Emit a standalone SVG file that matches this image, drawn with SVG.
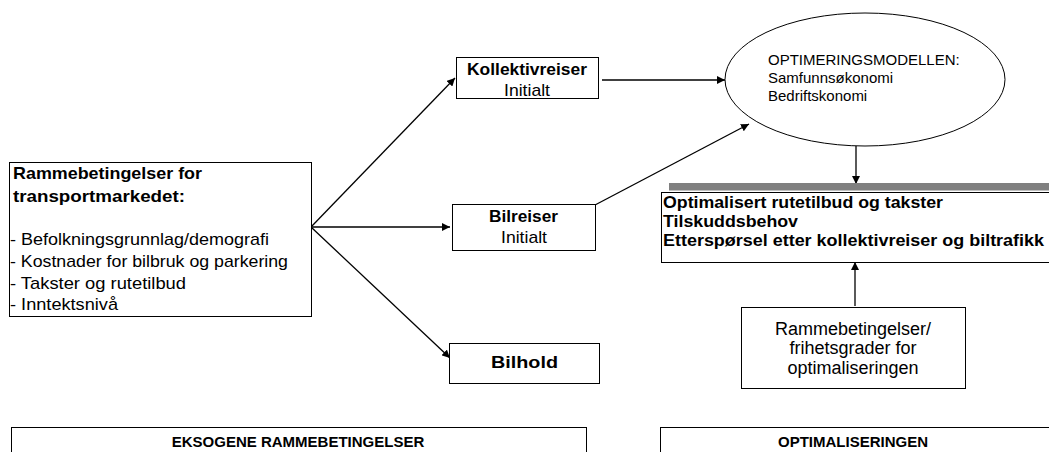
<svg xmlns="http://www.w3.org/2000/svg" width="1049" height="452" viewBox="0 0 1049 452">
<style>
text{font-family:"Liberation Sans",Arial,sans-serif;fill:#000}
.b{font-weight:bold}
.box{fill:#fff;stroke:#000;stroke-width:1}
.c{stroke:#000;stroke-width:1.3;fill:none}
</style>
<defs>
<marker id="ah" viewBox="0 0 10 10" refX="10" refY="5" markerWidth="8" markerHeight="8" markerUnits="userSpaceOnUse" orient="auto">
<path d="M0,0 L10,5 L0,10 z" fill="#000"/>
</marker>
</defs>
<rect width="1049" height="452" fill="#fff"/>
<g id="connectors">
<line class="c" x1="311" y1="227" x2="455" y2="78" marker-end="url(#ah)"/>
<line class="c" x1="311" y1="227" x2="450" y2="227" marker-end="url(#ah)"/>
<line class="c" x1="311" y1="227" x2="450" y2="358" marker-end="url(#ah)"/>
<line class="c" x1="602" y1="80" x2="725" y2="80" marker-end="url(#ah)"/>
<line class="c" x1="595" y1="205" x2="749" y2="124" marker-end="url(#ah)"/>
<line class="c" x1="856" y1="146" x2="856" y2="184" marker-end="url(#ah)"/>
<line class="c" x1="855" y1="306" x2="855" y2="262" marker-end="url(#ah)"/>
</g>
<g id="rammebetingelser">
<rect class="box" x="9.5" y="162.5" width="302" height="154"/>
<text class="b" x="13" y="179" font-size="17" textLength="189" lengthAdjust="spacingAndGlyphs">Rammebetingelser for</text>
<text class="b" x="13" y="202" font-size="17" textLength="172" lengthAdjust="spacingAndGlyphs">transportmarkedet:</text>
<text x="10" y="245" font-size="17" textLength="259" lengthAdjust="spacingAndGlyphs">- Befolkningsgrunnlag/demografi</text>
<text x="10" y="267" font-size="17" textLength="278" lengthAdjust="spacingAndGlyphs">- Kostnader for bilbruk og parkering</text>
<text x="10" y="289" font-size="17" textLength="176" lengthAdjust="spacingAndGlyphs">- Takster og rutetilbud</text>
<text x="10" y="310" font-size="17" textLength="108" lengthAdjust="spacingAndGlyphs">- Inntektsnivå</text>
</g>
<g id="kollektivreiser">
<rect class="box" x="456.5" y="57.5" width="142" height="41"/>
<text class="b" x="467" y="75" font-size="17" textLength="120" lengthAdjust="spacingAndGlyphs">Kollektivreiser</text>
<text x="504" y="96" font-size="17" textLength="46" lengthAdjust="spacingAndGlyphs">Initialt</text>
</g>
<g id="bilreiser">
<rect class="box" x="452.5" y="204.5" width="143" height="46"/>
<text class="b" x="489" y="222" font-size="17" textLength="69" lengthAdjust="spacingAndGlyphs">Bilreiser</text>
<text x="501" y="243" font-size="17" textLength="46" lengthAdjust="spacingAndGlyphs">Initialt</text>
</g>
<g id="bilhold">
<rect class="box" x="449.5" y="343.5" width="150" height="40"/>
<text class="b" x="491" y="368" font-size="17" textLength="67" lengthAdjust="spacingAndGlyphs">Bilhold</text>
</g>
<g id="optimeringsmodellen">
<ellipse cx="865" cy="79.5" rx="140" ry="66.5" fill="#fff" stroke="#000" stroke-width="1"/>
<text x="768" y="65" font-size="15">OPTIMERINGSMODELLEN:</text>
<text x="768" y="83" font-size="15">Samfunnsøkonomi</text>
<text x="768" y="101" font-size="15">Bedriftskonomi</text>
</g>
<g id="resultat">
<rect x="669" y="183" width="385" height="7.5" fill="#808080"/>
<rect class="box" x="661.5" y="192.5" width="400" height="70"/>
<text class="b" x="663" y="208" font-size="16" textLength="280" lengthAdjust="spacingAndGlyphs">Optimalisert rutetilbud og takster</text>
<text class="b" x="663" y="227" font-size="16" textLength="135" lengthAdjust="spacingAndGlyphs">Tilskuddsbehov</text>
<text class="b" x="663" y="246" font-size="16" textLength="381" lengthAdjust="spacingAndGlyphs">Etterspørsel etter kollektivreiser og biltrafikk</text>
</g>
<g id="frihetsgrader">
<rect class="box" x="741.5" y="307.5" width="224" height="81"/>
<text x="853" y="335" font-size="18" text-anchor="middle">Rammebetingelser/</text>
<text x="853" y="354" font-size="18" text-anchor="middle">frihetsgrader for</text>
<text x="853" y="374" font-size="18" text-anchor="middle">optimaliseringen</text>
</g>
<g id="eksogene">
<rect class="box" x="11.5" y="427.5" width="575" height="40"/>
<text class="b" x="298" y="447" font-size="15" text-anchor="middle">EKSOGENE RAMMEBETINGELSER</text>
</g>
<g id="optimaliseringen">
<rect class="box" x="660.5" y="427.5" width="400" height="40"/>
<text class="b" x="853" y="447" font-size="15" text-anchor="middle">OPTIMALISERINGEN</text>
</g>
</svg>
